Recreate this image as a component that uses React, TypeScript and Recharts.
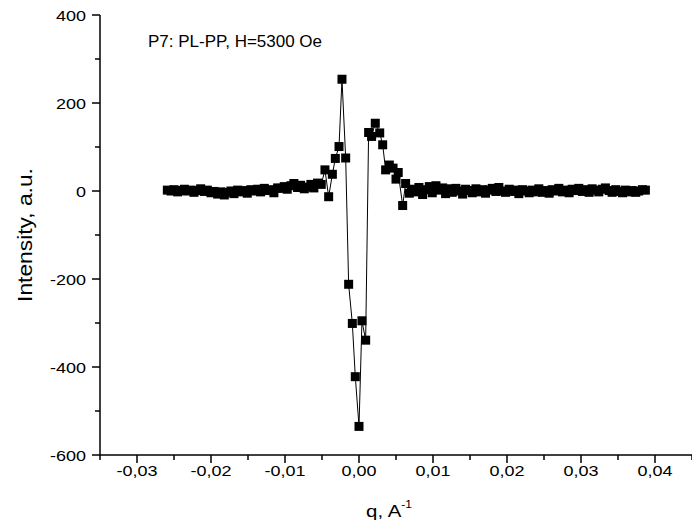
import React from 'react';
import { LineChart, Line, XAxis, YAxis } from 'recharts';

const qValues = [
  -0.0259, -0.0254, -0.0250, -0.0245, -0.0241, -0.0236, -0.0232, -0.0227, -0.0223, -0.0218,
  -0.0214, -0.0209, -0.0205, -0.0200, -0.0196, -0.0191, -0.0187, -0.0182, -0.0178, -0.0173,
  -0.0169, -0.0164, -0.0160, -0.0155, -0.0151, -0.0146, -0.0142, -0.0137, -0.0133, -0.0128,
  -0.0124, -0.0119, -0.0115, -0.0110, -0.0106, -0.0101, -0.0097, -0.0092, -0.0088, -0.0083,
  -0.0079, -0.0074, -0.0070, -0.0065, -0.0061, -0.0056,
  -0.0051, -0.0046, -0.0041, -0.0036, -0.0032, -0.0027, -0.0023, -0.0018, -0.0014, -0.0009,
  -0.0005, 0.0000, 0.0004, 0.0009, 0.0013, 0.0017, 0.0022, 0.0028, 0.0032, 0.0036,
  0.0041, 0.0046, 0.0050, 0.0053, 0.0059, 0.0063,
  0.0068, 0.0072, 0.0077, 0.0081, 0.0086, 0.0090, 0.0095, 0.0099, 0.0104, 0.0108,
  0.0113, 0.0117, 0.0122, 0.0126, 0.0131, 0.0135, 0.0140, 0.0144, 0.0149, 0.0153,
  0.0158, 0.0162, 0.0167, 0.0171, 0.0176, 0.0180, 0.0185, 0.0189, 0.0194, 0.0198,
  0.0203, 0.0207, 0.0212, 0.0216, 0.0221, 0.0225, 0.0230, 0.0234, 0.0239, 0.0243,
  0.0248, 0.0252, 0.0257, 0.0261, 0.0266, 0.0270, 0.0275, 0.0279, 0.0284, 0.0288,
  0.0293, 0.0297, 0.0302, 0.0306, 0.0311, 0.0315, 0.0320, 0.0324, 0.0329, 0.0333,
  0.0338, 0.0342, 0.0347, 0.0351, 0.0356, 0.0360, 0.0365, 0.0369, 0.0374, 0.0378,
  0.0383, 0.0387,
];

const intensity = [
  2, 0, 3, -2, 1, 4, 0, 2, -3, 1,
  5, -1, 2, -4, -1, -7, -2, -9, -3, 0,
  -6, 2, -2, 1, -5, 3, 0, 4, -2, 6,
  1, 3, -4, 7, 6, 10, 4, 12, 17, 8,
  13, 5, 9, 15, 7, 18,
  15, 48, -13, 38, 74, 101, 254, 75, -212, -301,
  -422, -535, -295, -339, 133, 124, 154, 132, 105, 48,
  59, 52, 27, 42, -33, 17,
  -5, 4, -2, 8, -8, 3, 10, -4, 12, 2,
  7, -6, 5, -3, 6, 0, -7, 4, 1, -4,
  5, -2, 3, -5, 2, 6, -1, 8, 0, -3,
  4, -1, 2, -6, 3, 0, -4, 2, -2, 5,
  -3, 1, -5, 3, 0, 6, -2, 2, -4, 4,
  1, 6, -1, 3, -3, 5, 2, -2, 4, 7,
  1, -3, 3, -1, -4, 2, -2, 1, -3, 0,
  3, 2,
];

const xTicks = [-0.035, -0.03, -0.025, -0.02, -0.015, -0.01, -0.005, 0, 0.005, 0.01, 0.015, 0.02, 0.025, 0.03, 0.035, 0.04, 0.045];
const xLabelTicks = [-0.03, -0.02, -0.01, 0, 0.01, 0.02, 0.03, 0.04];
const yTicks = [-600, -500, -400, -300, -200, -100, 0, 100, 200, 300, 400];
const yLabelTicks = [-600, -400, -200, 0, 200, 400];

const chartTitle = 'P7: PL-PP, H=5300 Oe';
const yAxisTitle = 'Intensity, a.u.';
const xAxisTitle = 'q, A';
const xAxisTitleSup = '-1';

const data = qValues.map((q, i) => ({ q, v: intensity[i] }));

const FONT = '"Liberation Sans", Arial, sans-serif';
const SX = 1.2;

const fmtX = (v: number) => {
  const s = Math.abs(v) < 1e-9 ? '0.00' : v.toFixed(2);
  return s.replace('.', ',');
};

const XTick = (props: any) => {
  const { x, y, payload } = props;
  const v = payload.value;
  const major = xLabelTicks.some((t) => Math.abs(t - v) < 1e-9);
  const len = major ? 8 : 5;
  return (
    <g>
      <line x1={x} y1={y} x2={x} y2={y + len} stroke="#000" strokeWidth={1.5} />
      {major && (
        <text
          transform={`translate(${x},${y + 21}) scale(${SX},1)`}
          textAnchor="middle"
          fontSize={15}
          fontFamily={FONT}
          fill="#000"
        >
          {fmtX(v)}
        </text>
      )}
    </g>
  );
};

const YTick = (props: any) => {
  const { x, y, payload } = props;
  const v = payload.value;
  const major = yLabelTicks.includes(v);
  const len = major ? 8 : 5;
  return (
    <g>
      <line x1={x - len} y1={y} x2={x} y2={y} stroke="#000" strokeWidth={1.5} />
      {major && (
        <text
          transform={`translate(${x - 14},${y + 5.5}) scale(${SX},1)`}
          textAnchor="end"
          fontSize={15}
          fontFamily={FONT}
          fill="#000"
        >
          {String(v)}
        </text>
      )}
    </g>
  );
};

const SquareDot = (props: any) => {
  const { cx, cy, index } = props;
  if (cx == null || cy == null) return <g key={`e${index}`} />;
  return <rect key={`d${index}`} x={cx - 4.5} y={cy - 4.5} width={9} height={9} fill="#000" />;
};

export default function App() {
  return (
    <div style={{ position: 'absolute', left: 0, top: 0, width: 692, height: 526, background: '#fff' }}>
      <LineChart width={692} height={526} data={data} margin={{ top: 15, right: 0, bottom: 0, left: 0 }}>
        <XAxis
          dataKey="q"
          type="number"
          domain={[-0.035, 0.045]}
          ticks={xTicks}
          interval={0}
          allowDataOverflow
          tick={XTick}
          tickLine={false}
          tickSize={0}
          tickMargin={0}
          height={71}
          axisLine={{ stroke: '#000', strokeWidth: 1.5 }}
        />
        <YAxis
          type="number"
          domain={[-600, 400]}
          ticks={yTicks}
          interval={0}
          allowDataOverflow
          tick={YTick}
          tickLine={false}
          tickSize={0}
          tickMargin={0}
          width={100}
          axisLine={{ stroke: '#000', strokeWidth: 1.5 }}
        />
        <Line
          type="linear"
          dataKey="v"
          stroke="#000"
          strokeWidth={1}
          dot={(p: any) => <SquareDot {...p} key={`k${p.index}`} />}
          activeDot={false}
          isAnimationActive={false}
        />
        <text x={148} y={47} fontSize={17} fontFamily={FONT} fill="#000">{chartTitle}</text>
        <text
          transform="translate(32,235) rotate(-90) scale(1.2,1.1)"
          textAnchor="middle"
          fontSize={19}
          fontFamily={FONT}
          fill="#000"
        >
          {yAxisTitle}
        </text>
        <text
          transform={`translate(389,517) scale(${SX},1)`}
          textAnchor="middle"
          fontSize={17}
          fontFamily={FONT}
          fill="#000"
        >
          {xAxisTitle}
          <tspan dy={-9} fontSize={10}>{xAxisTitleSup}</tspan>
        </text>
      </LineChart>
    </div>
  );
}
